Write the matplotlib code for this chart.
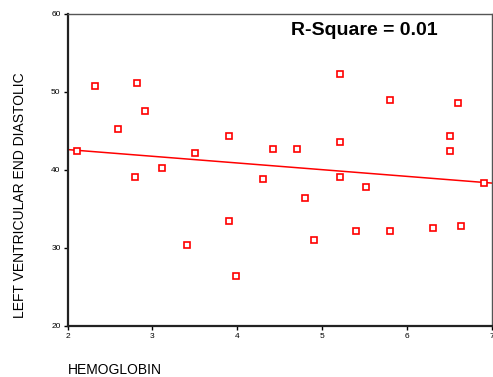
import numpy as np
import matplotlib
matplotlib.use("Agg")
import matplotlib.pyplot as plt

# hemoglobin vs LV end diastolic
hemoglobin = [2.11, 2.32, 2.82, 2.91, 2.60, 3.90, 3.50, 3.11, 2.80,
              5.21, 5.80, 6.60, 6.51, 6.51, 4.42, 4.70, 5.21, 4.30,
              5.21, 5.51, 6.90, 3.41, 3.90, 3.98, 4.80, 4.90, 5.40,
              5.80, 6.30, 6.63]
lv_end_diastolic = [42.4, 50.8, 51.1, 47.6, 45.2, 44.3, 42.1, 40.2, 39.1,
                    52.3, 49.0, 48.6, 44.3, 42.4, 42.7, 42.7, 43.6, 38.8,
                    39.1, 37.8, 38.3, 30.3, 33.5, 26.4, 36.4, 31.0, 32.1,
                    32.1, 32.6, 32.8]

# fitted line as drawn
fit_x = [2, 7]
fit_y = [42.6, 38.3]

x_ticks = [2, 3, 4, 5, 6, 7]
y_ticks = [20, 30, 40, 50, 60]

plt.rcParams["font.family"] = ["Liberation Sans", "DejaVu Sans"]

fig = plt.figure(figsize=(4.93, 3.77), dpi=100)
ax = fig.add_axes([0.137, 0.136, 0.861, 0.827])

ax.plot(fit_x, fit_y, color="#ff0000", linewidth=1.1, zorder=2)
ax.plot(hemoglobin, lv_end_diastolic, linestyle="none", marker="s",
        markersize=4.5, markerfacecolor="white", markeredgecolor="#ff0000",
        markeredgewidth=1.2, zorder=3)

ax.set_xlim(2, 7)
ax.set_ylim(20, 60)
ax.set_xticks(x_ticks)
ax.set_yticks(y_ticks)
ax.tick_params(labelsize=6, length=3, width=1, direction="out", pad=2)

for side in ["left", "bottom"]:
    ax.spines[side].set_linewidth(1.6)
    ax.spines[side].set_color("#222222")
for side in ["top", "right"]:
    ax.spines[side].set_linewidth(1.0)
    ax.spines[side].set_color("#555555")

ax.text(0.70, 0.975, "R-Square = 0.01", transform=ax.transAxes,
        ha="center", va="top", fontsize=14, fontweight="bold")

fig.text(0.138, 0.019, "HEMOGLOBIN", ha="left", va="center", fontsize=10)
fig.text(0.041, 0.481, "LEFT VENTRICULAR END DIASTOLIC", rotation=90,
         ha="center", va="center", fontsize=10)

fig.savefig("out.png", dpi=100, facecolor="white")
